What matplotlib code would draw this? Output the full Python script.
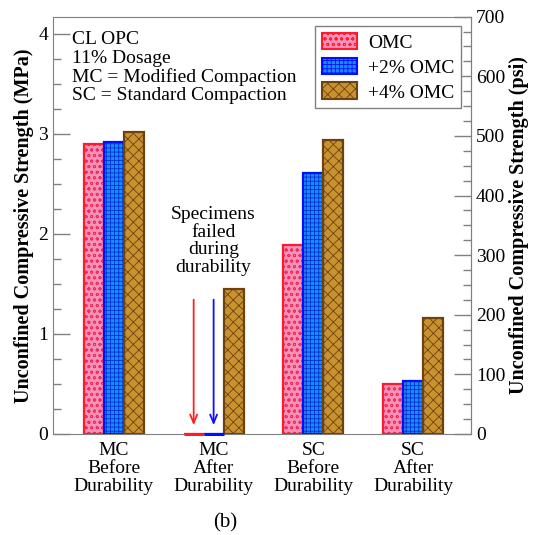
import numpy as np
import matplotlib
matplotlib.use('Agg')
import matplotlib.pyplot as plt
from matplotlib.patches import Patch
from matplotlib.ticker import MultipleLocator

plt.rcParams['font.family'] = ['Liberation Serif', 'DejaVu Serif']
plt.rcParams['hatch.linewidth'] = 0.6

groups = ['MC\nBefore\nDurability', 'MC\nAfter\nDurability',
          'SC\nBefore\nDurability', 'SC\nAfter\nDurability']
series = ['OMC', '+2% OMC', '+4% OMC']
omc = [2.90, 0.0, 1.89, 0.50]
omc2 = [2.92, 0.0, 2.61, 0.53]
omc4 = [3.02, 1.45, 2.94, 1.16]

faces = ['#f890b8', '#1a8cff', '#c8922e']
hatch_cols = ['#e8305a', '#0030d0', '#6e4210']
edges = ['#ff1a2e', '#0010ff', '#6e4210']
hatches = ['ooo', '++++', 'xxx']

fig = plt.figure(figsize=(5.38, 5.35), dpi=100)
ax = fig.add_axes([0.0985, 0.1888, 0.777, 0.780])

x = np.arange(len(groups))
w = 0.2

ax.set_xlim(-0.61, 3.58)
ax.set_ylim(0, 4.17)
ax.set_xticks(x)
ax.set_xticklabels(groups, fontsize=14, linespacing=1.08)
ax.tick_params(axis='x', length=0, pad=6)
ax.yaxis.set_major_locator(MultipleLocator(1))
ax.yaxis.set_minor_locator(MultipleLocator(0.25))
ax.tick_params(axis='y', which='major', direction='in', length=12, width=1,
               color='#808080', labelsize=14)
ax.tick_params(axis='y', which='minor', direction='in', length=6, width=1,
               color='#808080')
for s in ax.spines.values():
    s.set_color('#808080')
ax.set_ylabel('Unconfined Compressive Strength (MPa)', fontsize=14.5,
              fontweight='bold', labelpad=3)

ax2 = ax.twinx()
ax2.set_ylim(0, 700)
ax2.yaxis.set_major_locator(MultipleLocator(100))
ax2.yaxis.set_minor_locator(MultipleLocator(25))
ax2.tick_params(axis='y', which='major', direction='in', length=12, width=1,
                color='#808080', labelsize=14)
ax2.tick_params(axis='y', which='minor', direction='in', length=6, width=1,
                color='#808080')
for k in ['top', 'bottom', 'left']:
    ax2.spines[k].set_visible(False)
ax2.spines['right'].set_color('#808080')
ax2.set_ylabel('Unconfined Compressive Strength (psi)', fontsize=14.5,
               fontweight='bold', labelpad=3)

# bars drawn on the top axes so nothing covers the base lines
ax2.set_zorder(1)
ax.set_zorder(2)
ax.patch.set_visible(False)

for i, vals in enumerate([omc, omc2, omc4]):
    pos = x + (i - 1) * w
    # fill + hatch
    ax.bar(pos, vals, w, color=faces[i], edgecolor=hatch_cols[i], hatch=hatches[i],
           linewidth=0, zorder=2)
    # outline
    ax.bar(pos, vals, w, fill=False, edgecolor=edges[i], linewidth=1.6, zorder=3)
    # zero-height bars show as a coloured line on the base
    for p, v in zip(pos, vals):
        if v == 0:
            ax.plot([p - w / 2, p + w / 2], [0, 0], color=edges[i], lw=2.2,
                    zorder=4, clip_on=False, solid_capstyle='butt')

# failed specimens arrows
ax.annotate('', xy=(1 - w, 0.06), xytext=(1 - w, 1.37),
            arrowprops=dict(arrowstyle='->,head_length=0.6,head_width=0.25',
                            color='#ff2020', lw=1.3))
ax.annotate('', xy=(1, 0.06), xytext=(1, 1.37),
            arrowprops=dict(arrowstyle='->,head_length=0.6,head_width=0.25',
                            color='#1010ff', lw=1.3))
ax.text(1, 1.93, 'Specimens\nfailed\nduring\ndurability', ha='center',
        va='center', fontsize=14, linespacing=1.05)

ax.text(0.045, 0.965, 'CL OPC\n11% Dosage\nMC = Modified Compaction\nSC = Standard Compaction',
        transform=ax.transAxes, ha='left', va='top', fontsize=14, linespacing=1.1)

handles = [Patch(facecolor=faces[i], edgecolor=hatch_cols[i], hatch=hatches[i],
                 linewidth=0) for i in range(3)]
leg = ax.legend(handles, series, loc='upper right', fontsize=14,
                bbox_to_anchor=(0.976, 0.978), borderaxespad=0, fancybox=False,
                edgecolor='#808080', handlelength=1.8, handleheight=0.95,
                borderpad=0.35, labelspacing=0.3, handletextpad=0.55,
                framealpha=1)
leg.get_frame().set_linewidth(1)
for h, ec in zip(leg.legend_handles, edges):
    h.set_edgecolor(ec)
    h.set_linewidth(1.5)

fig.text(0.418, 0.022, '(b)', ha='center', va='center', fontsize=15)

fig.savefig('out.png', dpi=100)
